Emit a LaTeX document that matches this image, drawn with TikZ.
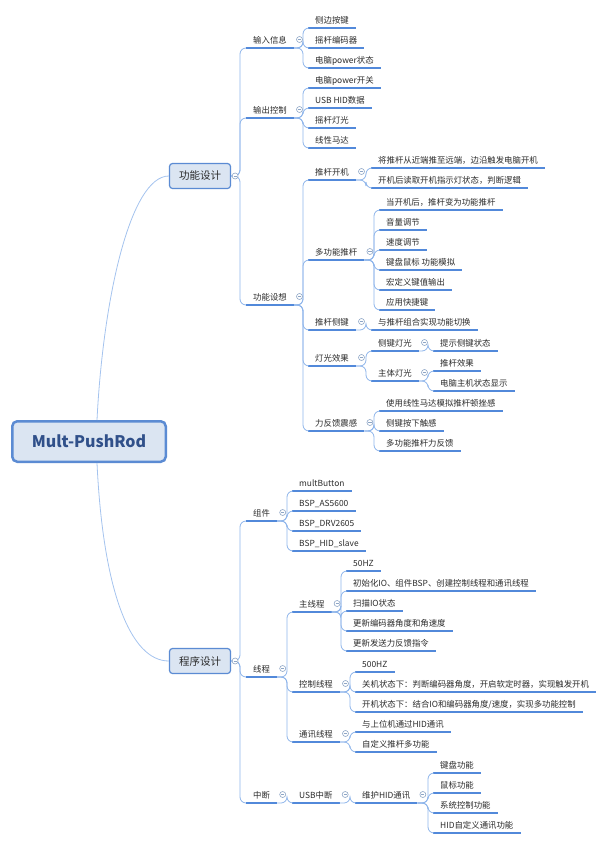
\documentclass[tikz,border=0pt]{standalone}
\usepackage{fontspec}
\newfontfamily\cjk{Noto Sans CJK SC}
\definecolor{boxfill}{HTML}{DBE5F2}
\definecolor{boxline}{HTML}{5B8BD3}
\definecolor{linec}{HTML}{5289DA}
\definecolor{linkc}{HTML}{8DB4EA}
\definecolor{textc}{HTML}{2B2B2B}
\definecolor{rootc}{HTML}{30508A}
\definecolor{foldc}{HTML}{8EA6C6}
\tikzset{
fold/.pic={
  \draw[foldc, fill=white, line width=0.6pt] (0,0) circle [radius=3pt];
  \draw[foldc, line width=0.6pt] (-1.6pt,0) -- (1.6pt,0);
  },
root/.style={draw=boxline, fill=boxfill, line width=2.5pt, rounded corners=5pt,
  minimum width=153.5pt, minimum height=40.5pt, text=rootc,
  font=\cjk\bfseries\fontsize{16}{18}\selectfont},
topic/.style={draw=boxline, fill=boxfill, line width=1.2pt, rounded corners=3pt,
  minimum width=61pt, minimum height=25pt, text=textc,
  font=\cjk\fontsize{10.5}{12}\selectfont},
uline/.style={draw=linec, line width=1.6pt},
leaf/.style={anchor=south west, inner xsep=7pt, inner ysep=3pt,
  text height=6pt, text depth=1.5pt, text=textc,
  font=\cjk\fontsize{8.4}{9}\selectfont,
  append after command={(\tikzlastnode.south west) edge[uline] (\tikzlastnode.south east)}},
branch/.style={draw=linkc, line width=0.8pt, rounded corners=6pt},
rootlink/.style={draw=linkc!80, line width=0.8pt}
}
\begin{document}
\begin{tikzpicture}[x=1pt,y=-1pt]
\useasboundingbox (0,0) rectangle (600,844);
\node[root] (mp) at (89,441.5) {Mult-PushRod};
\node[topic] (fd) at (200,176) {功能设计};
\node[topic] (cd) at (200,661) {程序设计};
\draw[rootlink] ([xshift=8pt]mp.north) .. controls (103,300) and (130,176) .. (fd.west);
\draw[rootlink] ([xshift=8pt]mp.south) .. controls (103,590) and (130,661) .. (cd.west);

\node[leaf] (in) at (246,48) {输入信息};
\node[leaf] (out) at (246,118) {输出控制};
\node[leaf] (idea) at (246,305) {功能设想};
\node[leaf] (in1) at (308,28) {侧边按键};
\node[leaf] (in2) at (308,48) {摇杆编码器};
\node[leaf] (in3) at (308,68) {电脑power状态};
\node[leaf] (out1) at (308,88) {电脑power开关};
\node[leaf] (out2) at (308,108) {USB HID数据};
\node[leaf] (out3) at (308,128) {摇杆灯光};
\node[leaf] (out4) at (308,148) {线性马达};
\node[leaf] (on) at (308,180) {推杆开机};
\node[leaf] (multi) at (308,260) {多功能推杆};
\node[leaf] (side) at (308,330) {推杆侧键};
\node[leaf] (light) at (308,366) {灯光效果};
\node[leaf] (fb) at (308,431) {力反馈震感};
\node[leaf] (on1) at (371,168) {将推杆从近端推至远端，边沿触发电脑开机};
\node[leaf] (on2) at (371,188) {开机后读取开机指示灯状态，判断逻辑};
\node[leaf] (multi1) at (379,210) {当开机后，推杆变为功能推杆};
\node[leaf] (multi2) at (379,230) {音量调节};
\node[leaf] (multi3) at (379,250) {速度调节};
\node[leaf] (multi4) at (379,270) {键盘鼠标 功能模拟};
\node[leaf] (multi5) at (379,290) {宏定义键值输出};
\node[leaf] (multi6) at (379,310) {应用快捷键};
\node[leaf] (side1) at (371,330) {与推杆组合实现功能切换};
\node[leaf] (light1) at (371,351) {侧键灯光};
\node[leaf] (light2) at (371,381) {主体灯光};
\node[leaf] (light11) at (433,351) {提示侧键状态};
\node[leaf] (light21) at (433,371) {推杆效果};
\node[leaf] (light22) at (433,391) {电脑主机状态显示};
\node[leaf] (fb1) at (379,411) {使用线性马达模拟推杆顿挫感};
\node[leaf] (fb2) at (379,431) {侧键按下触感};
\node[leaf] (fb3) at (379,451) {多功能推杆力反馈};

\node[leaf] (comp) at (246,521) {组件};
\node[leaf] (thr) at (246,677) {线程};
\node[leaf] (irq) at (246,803) {中断};
\node[leaf] (comp1) at (292,491) {multButton};
\node[leaf] (comp2) at (292,511) {BSP\_AS5600};
\node[leaf] (comp3) at (292,531) {BSP\_DRV2605};
\node[leaf] (comp4) at (292,551) {BSP\_HID\_slave};
\node[leaf] (main) at (292,612) {主线程};
\node[leaf] (ctrl) at (292,692) {控制线程};
\node[leaf] (com) at (292,742) {通讯线程};
\node[leaf] (usb) at (292,803) {USB中断};
\node[leaf] (main1) at (346,571) {50HZ};
\node[leaf] (main2) at (346,591) {初始化IO、组件BSP、创建控制线程和通讯线程};
\node[leaf] (main3) at (346,611) {扫描IO状态};
\node[leaf] (main4) at (346,631) {更新编码器角度和角速度};
\node[leaf] (main5) at (346,651) {更新发送力反馈指令};
\node[leaf] (ctrl1) at (355,672) {500HZ};
\node[leaf] (ctrl2) at (355,692) {关机状态下：判断编码器角度，开启软定时器，实现触发开机};
\node[leaf] (ctrl3) at (355,712) {开机状态下：结合IO和编码器角度/速度，实现多功能控制};
\node[leaf] (com1) at (355,732) {与上位机通过HID通讯};
\node[leaf] (com2) at (355,752) {自定义推杆多功能};
\node[leaf] (hid) at (355,803) {维护HID通讯};
\node[leaf] (hid1) at (433,773) {键盘功能};
\node[leaf] (hid2) at (433,793) {鼠标功能};
\node[leaf] (hid3) at (433,813) {系统控制功能};
\node[leaf] (hid4) at (433,833) {HID自定义通讯功能};

\foreach \c in {in,out,idea} \draw[branch] (fd.east) -| ([xshift=-6pt]\c.south west) -- (\c.south west);
\foreach \c in {comp,thr,irq} \draw[branch] (cd.east) -| ([xshift=-6pt]\c.south west) -- (\c.south west);
\foreach \p/\c in {in/in1,in/in2,in/in3,out/out1,out/out2,out/out3,out/out4,
  idea/on,idea/multi,idea/side,idea/light,idea/fb,on/on1,on/on2,
  multi/multi1,multi/multi2,multi/multi3,multi/multi4,multi/multi5,multi/multi6,
  side/side1,light/light1,light/light2,light1/light11,light2/light21,light2/light22,
  fb/fb1,fb/fb2,fb/fb3,comp/comp1,comp/comp2,comp/comp3,comp/comp4,
  thr/main,thr/ctrl,thr/com,irq/usb,main/main1,main/main2,main/main3,main/main4,main/main5,
  ctrl/ctrl1,ctrl/ctrl2,ctrl/ctrl3,com/com1,com/com2,usb/hid,
  hid/hid1,hid/hid2,hid/hid3,hid/hid4}
  \draw[branch] (\p.south east) -| ([xshift=-5pt]\c.south west) -- (\c.south west);

\foreach \p in {in,out,idea,on,multi,side,light,light1,light2,fb,comp,thr,main,ctrl,com,irq,usb,hid}
  \pic at ([shift={(5.5,-8.5)}]\p.south east) {fold};
\foreach \p in {fd,cd} \pic at ([xshift=4pt]\p.east) {fold};
\end{tikzpicture}
\end{document}
